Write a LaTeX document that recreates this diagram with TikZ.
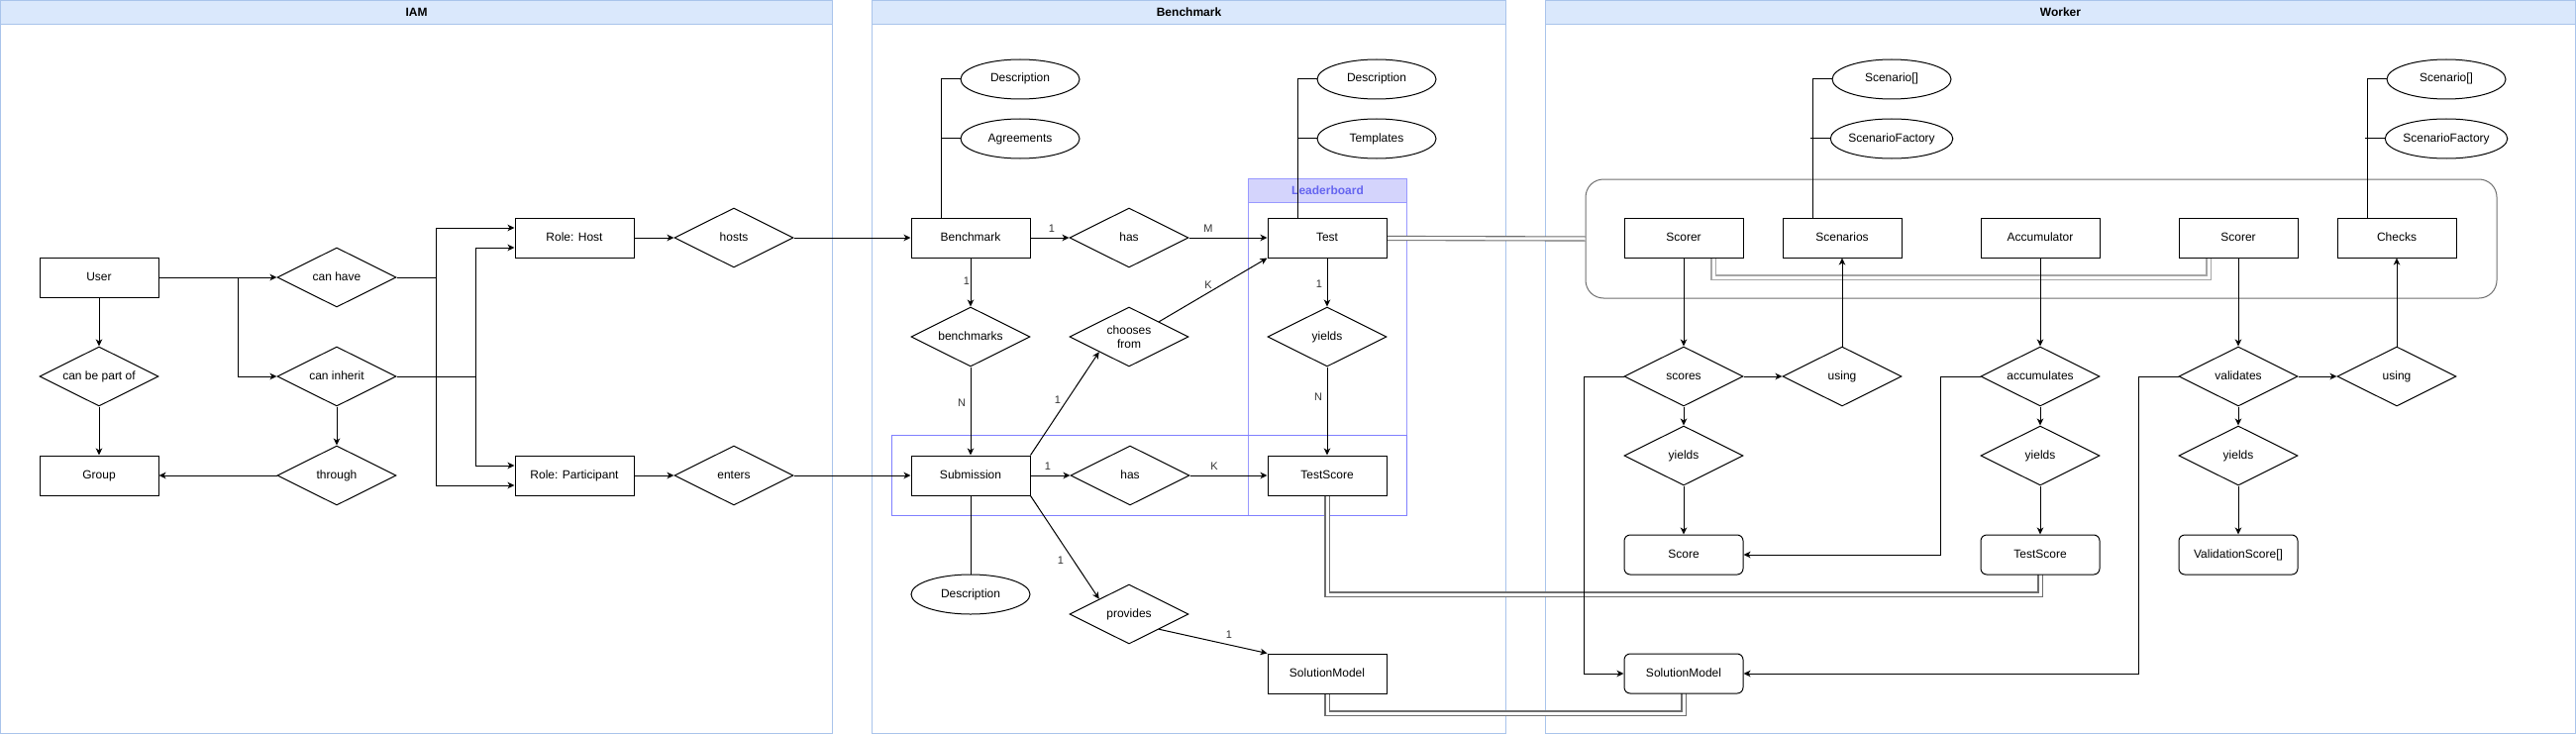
\documentclass[tikz,border=0pt]{standalone}
\usepackage{fontspec}
\setmainfont{Liberation Sans}
\usetikzlibrary{shapes.geometric,arrows.meta,calc}
\definecolor{swfill}{HTML}{DAE8FC}
\definecolor{swline}{HTML}{A9C4EB}
\definecolor{lbfill}{HTML}{D4D4FC}
\definecolor{lbline}{HTML}{9999FF}
\definecolor{lbtext}{HTML}{6666F0}
\definecolor{subline}{HTML}{8080FF}
\definecolor{linkc}{HTML}{6E6E6E}
\definecolor{linkl}{HTML}{A6A6A6}
\definecolor{grpline}{HTML}{707070}
\begin{document}
\begin{tikzpicture}[x=1pt,y=-1pt,
 font=\fontsize{12}{14}\selectfont,
 tx/.style={text height=8.6pt, text depth=2.6pt},
 ent/.style={draw, line width=1pt, minimum width=120pt, minimum height=40pt, inner sep=0pt, fill=white, tx},
 rent/.style={ent, rounded corners=6pt},
 relbase/.style={draw, diamond, aspect=2, line width=1pt, minimum width=120pt, minimum height=60pt, inner sep=0pt, align=center, fill=white},
 rel/.style={relbase, tx},
 attr/.style={draw, ellipse, line width=1pt, minimum width=120pt, minimum height=40pt, inner sep=0pt, fill=white, tx},
 conn/.style={line width=1pt},
 arr/.style={line width=1pt, -{Stealth[length=7pt,width=6.5pt,inset=2pt]}},
 lnk/.style={draw=linkc, double=white, double distance=3pt, line width=1.1pt},
 card/.style={font=\fontsize{11}{13}\selectfont, text=black!80, inner sep=1pt},
 hdr/.style={font=\bfseries\fontsize{12}{14}\selectfont},
]
\useasboundingbox (0,0) rectangle (2601,741);
% panels
\draw[swline, fill=white] (0.5,0.5) rectangle (840.5,740.5);
\draw[swline, fill=swfill] (0.5,0.5) rectangle (840.5,24.5);
\node[hdr] (hiam) at (420.5,12.5) {IAM};
\draw[swline, fill=white] (880.5,0.5) rectangle (1520.5,740.5);
\draw[swline, fill=swfill] (880.5,0.5) rectangle (1520.5,24.5);
\node[hdr] (hbench) at (1200.5,12.5) {Benchmark};
\draw[swline, fill=white] (1560.5,0.5) rectangle (2600.5,740.5);
\draw[swline, fill=swfill] (1560.5,0.5) rectangle (2600.5,24.5);
\node[hdr] (hworker) at (2080.5,12.5) {Worker};
% containers
\draw[lbline, line width=1pt, fill=lbfill] (1260.5,180.5) rectangle (1420.5,204.5);
\draw[lbline, line width=1pt] (1260.5,180.5) rectangle (1420.5,520.5);
\node[hdr, text=lbtext] (hlb) at (1340.5,192.5) {Leaderboard};
\draw[subline, line width=1pt] (900.5,439.5) rectangle (1420.5,520.5);
\node[draw=grpline, line width=1pt, rounded corners=18pt, minimum width=920pt, minimum height=120pt, anchor=north west] (wgroup) at (1600.5,180.5) {};

% double links (behind nodes)
\draw[lnk] (1400,240.5) -- (wgroup.west);
\draw[lnk] (1340,500) -- (1340,600) -- (2060,600) -- (2060,580);
\draw[lnk] (1340,700) -- (1340,720) -- (1700,720) -- (1700,700);
\draw[lnk, draw=linkl] (1730,260) -- (1730,280) -- (2230,280) -- (2230,260);

% IAM nodes
\node[ent] (user) at (100,280) {User};
\node[rel] (canbe) at (100,380) {can be part of};
\node[ent] (group) at (100,480) {Group};
\node[rel] (canhave) at (340,280) {can have};
\node[rel] (caninherit) at (340,380) {can inherit};
\node[rel] (through) at (340,480) {through};
\node[ent] (rolehost) at (580,240) {Role: Host};
\node[ent] (rolepart) at (580,480) {Role: Participant};
\node[rel] (hosts) at (741,240) {hosts};
\node[rel] (enters) at (741,480) {enters};

% Benchmark nodes
\node[ent] (bench) at (980,240) {Benchmark};
\node[attr] (desc1) at (1030,80) {Description};
\node[attr] (agree) at (1030,140) {Agreements};
\node[rel] (has1) at (1140,240) {has};
\node[ent] (test) at (1340,240) {Test};
\node[attr] (desc2) at (1390,80) {Description};
\node[attr] (templ) at (1390,140) {Templates};
\node[rel] (benchmarks) at (980,340) {benchmarks};
\node[relbase] (chooses) at (1140,340) {chooses\\from};
\node[rel] (yields1) at (1340,340) {yields};
\node[ent] (sub) at (980,480) {Submission};
\node[rel] (has2) at (1141,480) {has};
\node[ent] (testscore) at (1340,480) {TestScore};
\node[attr] (desc3) at (980,600) {Description};
\node[rel] (provides) at (1140,620) {provides};
\node[ent] (solm) at (1340,680) {SolutionModel};

% Worker nodes
\node[ent] (scorer1) at (1700,240) {Scorer};
\node[ent] (scen) at (1860,240) {Scenarios};
\node[ent] (accum) at (2060,240) {Accumulator};
\node[ent] (scorer2) at (2260,240) {Scorer};
\node[ent] (checks) at (2420,240) {Checks};
\node[attr] (scen1) at (1910,80) {Scenario[]};
\node[attr] (sf1) at (1910,140) {ScenarioFactory};
\node[attr] (scen2) at (2470,80) {Scenario[]};
\node[attr] (sf2) at (2470,140) {ScenarioFactory};
\node[rel] (scores) at (1700,380) {scores};
\node[rel] (using1) at (1860,380) {using};
\node[rel] (accs) at (2060,380) {accumulates};
\node[rel] (valid) at (2260,380) {validates};
\node[rel] (using2) at (2420,380) {using};
\node[rel] (y1) at (1700,460) {yields};
\node[rel] (y2) at (2060,460) {yields};
\node[rel] (y3) at (2260,460) {yields};
\node[rent] (score) at (1700,560) {Score};
\node[rent] (ts2) at (2060,560) {TestScore};
\node[rent] (vs) at (2260,560) {ValidationScore[]};
\node[rent] (solm2) at (1700,680) {SolutionModel};

% IAM connectors
\draw[arr] (user.south) -- (canbe.north);
\draw[arr] (canbe.south) -- (group.north);
\draw[arr] (user.east) -- (canhave.west);
\draw[arr] (user.east) -- ++(80,0) |- (caninherit.west);
\draw[arr] (caninherit.south) -- (through.north);
\draw[arr] (through.west) -- (group.east);
\draw[arr] (canhave.east) -- ++(40,0) |- ([yshift=10pt]rolehost.west);
\draw[arr] (canhave.east) -- ++(40,0) |- ([yshift=-10pt]rolepart.west);
\draw[arr] (caninherit.east) -- ++(80,0) |- ([yshift=-10pt]rolehost.west);
\draw[arr] (caninherit.east) -- ++(80,0) |- ([yshift=10pt]rolepart.west);
\draw[arr] (rolehost.east) -- (hosts.west);
\draw[arr] (rolepart.east) -- (enters.west);

% Benchmark connectors
\draw[arr] (hosts.east) -- (bench.west);
\draw[arr] (enters.east) -- (sub.west);
\draw[conn] ([xshift=-30pt]bench.north) |- (desc1.west);
\draw[conn] (agree.west) -- ++(-20,0);
\draw[conn] ([xshift=-30pt]test.north) |- (desc2.west);
\draw[conn] (templ.west) -- ++(-20,0);
\draw[arr] (bench.east) -- (has1.west);
\draw[arr] (has1.east) -- (test.west);
\draw[arr] (bench.south) -- (benchmarks.north);
\draw[arr] (benchmarks.south) -- (sub.north);
\draw[arr] (sub.north east) -- ($(chooses.west)!0.5!(chooses.south)$);
\draw[arr] ($(chooses.north)!0.5!(chooses.east)$) -- (test.south west);
\draw[arr] (test.south) -- (yields1.north);
\draw[arr] (yields1.south) -- (testscore.north);
\draw[arr] (sub.east) -- (has2.west);
\draw[arr] (has2.east) -- (testscore.west);
\draw[conn] (sub.south) -- (desc3.north);
\draw[arr] (sub.south east) -- ($(provides.west)!0.5!(provides.north)$);
\draw[arr] ($(provides.south)!0.5!(provides.east)$) -- (solm.north west);

% cardinalities
\node[card] (c1) at (1062,231) {1};
\node[card] (c2) at (1220,231) {M};
\node[card] (c3) at (976,284) {1};
\node[card] (c4) at (971,407) {N};
\node[card] (c5) at (1220,288) {K};
\node[card] (c6) at (1068,404) {1};
\node[card] (c7) at (1332,287) {1};
\node[card] (c8) at (1331,401) {N};
\node[card] (c9) at (1058,471) {1};
\node[card] (c10) at (1226,471) {K};
\node[card] (c11) at (1071,566) {1};
\node[card] (c12) at (1241,641) {1};

% Worker connectors
\draw[conn] ([xshift=-30pt]scen.north) |- (scen1.west);
\draw[conn] (sf1.west) -- ++(-20,0);
\draw[conn] ([xshift=-30pt]checks.north) |- (scen2.west);
\draw[conn] (sf2.west) -- ++(-20,0);
\draw[arr] (scorer1.south) -- (scores.north);
\draw[arr] (scores.east) -- (using1.west);
\draw[arr] (using1.north) -- (scen.south);
\draw[arr] (scores.south) -- (y1.north);
\draw[arr] (y1.south) -- (score.north);
\draw[arr] (scores.west) -- ++(-40,0) |- (solm2.west);
\draw[arr] (accum.south) -- (accs.north);
\draw[arr] (accs.south) -- (y2.north);
\draw[arr] (y2.south) -- (ts2.north);
\draw[arr] (accs.west) -- ++(-40,0) |- (score.east);
\draw[arr] (scorer2.south) -- (valid.north);
\draw[arr] (valid.east) -- (using2.west);
\draw[arr] (using2.north) -- (checks.south);
\draw[arr] (valid.south) -- (y3.north);
\draw[arr] (y3.south) -- (vs.north);
\draw[arr] (valid.west) -- ++(-40,0) |- (solm2.east);
\end{tikzpicture}
\end{document}
